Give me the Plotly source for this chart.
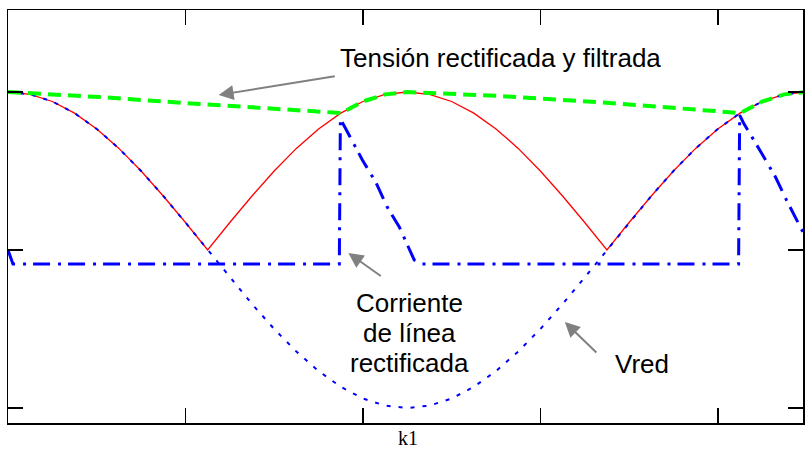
import plotly.graph_objects as go

# ---- data (axis units) ----
x_grid = [0.0, 0.125, 0.25, 0.375, 0.5, 0.625, 0.75, 0.875, 1.0, 1.125, 1.25, 1.375,
          1.5, 1.625, 1.75, 1.875, 2.0, 2.125, 2.25, 2.375, 2.5, 2.625, 2.75, 2.875,
          3.0, 3.125, 3.25, 3.375, 3.5, 3.625, 3.75, 3.875, 4.0, 4.125, 4.25, 4.375, 4.5]

vred = [1.000, 0.985, 0.940, 0.866, 0.766, 0.643, 0.500, 0.342, 0.174, 0.000,
        -0.174, -0.342, -0.500, -0.643, -0.766, -0.866, -0.940, -0.985, -1.000,
        -0.985, -0.940, -0.866, -0.766, -0.643, -0.500, -0.342, -0.174, 0.000,
        0.174, 0.342, 0.500, 0.643, 0.766, 0.866, 0.940, 0.985, 1.000]

v_rect = [1.000, 0.985, 0.940, 0.866, 0.766, 0.643, 0.500, 0.342, 0.174, 0.000,
          0.174, 0.342, 0.500, 0.643, 0.766, 0.866, 0.940, 0.985, 1.000,
          0.985, 0.940, 0.866, 0.766, 0.643, 0.500, 0.342, 0.174, 0.000,
          0.174, 0.342, 0.500, 0.643, 0.766, 0.866, 0.940, 0.985, 1.000]

x_filt = [0.0, 0.518, 1.080, 1.642, 1.878, 2.0, 2.125, 2.25,
          2.767, 3.330, 3.890, 4.128, 4.25, 4.375, 4.5]
v_filt = [1.000, 0.968, 0.924, 0.886, 0.867, 0.940, 0.985, 1.000,
          0.975, 0.935, 0.890, 0.867, 0.940, 0.985, 1.000]

x_curr = [0.0, 0.028, 1.867, 1.873, 1.907, 1.997, 2.075, 2.137, 2.205, 2.261,
          2.289, 2.328, 4.117, 4.123, 4.145, 4.246, 4.325, 4.387, 4.466, 4.488]
i_curr = [0.0, -0.089, -0.089, 0.829, 0.759, 0.570, 0.424, 0.272, 0.146, 0.0,
          -0.063, -0.089, -0.089, 0.854, 0.804, 0.614, 0.462, 0.316, 0.146, 0.095]

x_ticks = [1, 2, 3, 4]
y_ticks = [-1, 0, 1]

fig = go.Figure()
fig.add_trace(go.Scatter(x=x_grid, y=v_rect, mode="lines", hoverinfo="skip",
                         line=dict(color="#ff0000", width=1.3)))
fig.add_trace(go.Scatter(x=x_grid, y=vred, mode="lines", hoverinfo="skip",
                         line=dict(color="#0000ff", width=2, dash="4px,8px")))
fig.add_trace(go.Scatter(x=x_filt, y=v_filt, mode="lines", hoverinfo="skip",
                         line=dict(color="#00ff00", width=4, dash="13px,7px")))
fig.add_trace(go.Scatter(x=x_curr, y=i_curr, mode="lines", hoverinfo="skip",
                         line=dict(color="#0000ff", width=3, dash="17px,8px,3px,7px")))

font_txt = dict(family="Liberation Sans, Arial", size=26, color="#000000")
arrow = dict(showarrow=True, arrowhead=2, arrowsize=1.5, arrowwidth=2,
             arrowcolor="#808080", axref="x", ayref="y", text="")

annotations = [
    dict(x=1.187, y=0.981, ax=1.850, ay=1.101, **arrow),
    dict(x=1.918, y=-0.019, ax=2.109, ay=-0.171, **arrow),
    dict(x=3.138, y=-0.456, ax=3.324, ay=-0.658, **arrow),
    dict(x=2.778, y=1.215, text="Tensión rectificada y filtrada", showarrow=False,
         font=font_txt, xanchor="center", yanchor="middle"),
    dict(x=2.261, y=-0.335, text="Corriente", showarrow=False,
         font=font_txt, xanchor="center", yanchor="middle"),
    dict(x=2.261, y=-0.525, text="de línea", showarrow=False,
         font=font_txt, xanchor="center", yanchor="middle"),
    dict(x=2.261, y=-0.715, text="rectificada", showarrow=False,
         font=font_txt, xanchor="center", yanchor="middle"),
    dict(x=3.571, y=-0.722, text="Vred", showarrow=False,
         font=font_txt, xanchor="center", yanchor="middle"),
    dict(x=0.5035, y=-0.0654, xref="paper", yref="paper", text="k1", showarrow=False,
         font=dict(family="Liberation Serif, Times New Roman", size=20, color="#000000"),
         xanchor="center", yanchor="bottom", borderpad=0),
]

fig.update_layout(
    width=806, height=450,
    margin=dict(l=8, r=1, t=10, b=27),
    paper_bgcolor="white", plot_bgcolor="white",
    showlegend=False,
    annotations=annotations,
    xaxis=dict(range=[0, 4.48], tickvals=x_ticks, showticklabels=False,
               ticks="inside", ticklen=15, tickwidth=1.5, tickcolor="#000000",
               showline=True, linecolor="#000000", linewidth=1.5, mirror="allticks",
               showgrid=False, zeroline=False, fixedrange=True),
    yaxis=dict(range=[-1.095, 1.519], tickvals=y_ticks, showticklabels=False,
               ticks="inside", ticklen=15, tickwidth=1.5, tickcolor="#000000",
               showline=True, linecolor="#000000", linewidth=1.5, mirror="allticks",
               showgrid=False, zeroline=False, fixedrange=True),
)

fig.write_html(
    "out.html",
    config={"displayModeBar": False, "staticPlot": True},
    post_script="document.body.style.margin='0';document.body.style.overflow='hidden';",
)
